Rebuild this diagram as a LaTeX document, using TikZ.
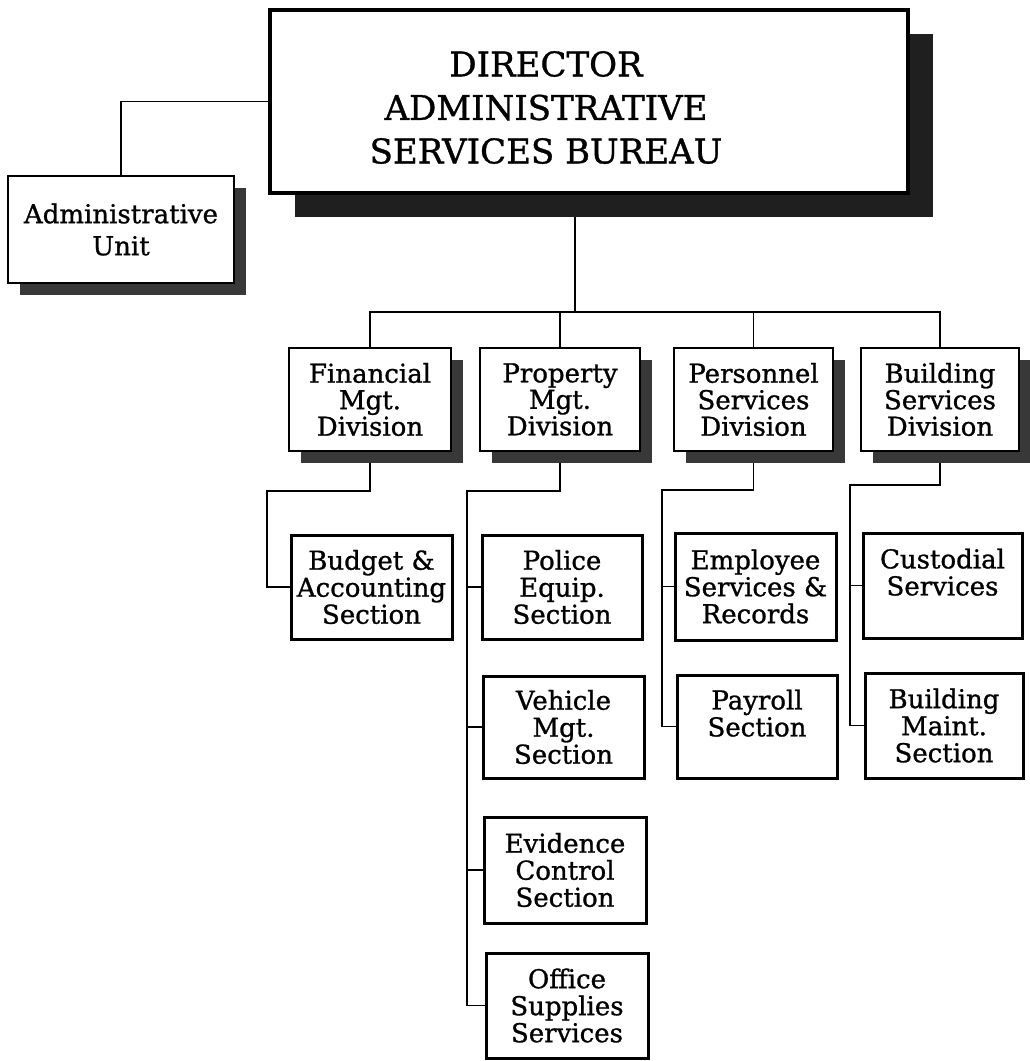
\documentclass[tikz,border=0pt]{standalone}
\usepackage{fontspec}
\setmainfont{DejaVu Serif}[BoldFont=DejaVu Serif, BoldFeatures={FakeBold=1.0}]
\usetikzlibrary{shadows,backgrounds}
\begin{document}
\begin{tikzpicture}[x=1pt,y=-1pt,
  box/.style={draw, fill=white, inner sep=0pt, align=center},
  divbox/.style={box, line width=2.8pt, minimum height=103pt,
    font=\fontsize{26}{26.5}\selectfont\bfseries,
    drop shadow={shadow xshift=12pt, shadow yshift=-12pt, fill=black!78, opacity=1}},
  secbox/.style={box, line width=3pt,
    font=\fontsize{26}{27}\selectfont\bfseries},
  conn/.style={line width=1.8pt}
]
\useasboundingbox (0,0) rectangle (1030,1061);

% Director
\node[box, line width=3.4pt, minimum width=638pt, minimum height=183pt,
  drop shadow={shadow xshift=25pt, shadow yshift=-24pt, fill=black!88, opacity=1}]
  (dir) at (589,101.5) {};
\node[align=center, font=\fontsize{34}{43.5}\selectfont\bfseries] (dirtext) at (546,107.5)
  {DIRECTOR\\ADMINISTRATIVE\\SERVICES BUREAU};

% Administrative unit
\node[box, line width=2.8pt, minimum width=226pt, minimum height=107pt,
  font=\fontsize{26}{32}\selectfont\bfseries,
  drop shadow={shadow xshift=12pt, shadow yshift=-12pt, fill=black!78, opacity=1}]
  (adm) at (121,229.5) {Administrative\\Unit};

% Divisions
\node[divbox, minimum width=162pt] (fin)  at (370,399.5)   {Financial\\Mgt.\\Division};
\node[divbox, minimum width=160pt] (prop) at (560,399.5)   {Property\\Mgt.\\Division};
\node[divbox, minimum width=159pt] (pers) at (753.5,399.5) {Personnel\\Services\\Division};
\node[divbox, minimum width=158pt] (bld)  at (940,399.5)   {Building\\Services\\Division};

% Sections
\node[secbox, minimum width=161pt, minimum height=104pt] (bud) at (371.5,587) {Budget \&\\Accounting\\Section};
\node[secbox, minimum width=160pt, minimum height=104pt] (pol) at (562,587)   {Police\\Equip.\\Section};
\node[secbox, minimum width=161pt, minimum height=102pt] (veh) at (563.5,727) {Vehicle\\Mgt.\\Section};
\node[secbox, minimum width=162pt, minimum height=106pt] (evi) at (565,870)   {Evidence\\Control\\Section};
\node[secbox, minimum width=162pt, minimum height=105pt] (off) at (567,1005.5) {Office\\Supplies\\Services};
\node[secbox, minimum width=161pt, minimum height=107pt] (emp) at (755.5,586.5) {Employee\\Services \&\\Records};
\node[secbox, minimum width=160pt, minimum height=103pt] (pay) at (757,726.5) {Payroll\\Section\\~};
\node[secbox, minimum width=159pt, minimum height=105pt] (cus) at (942.5,585.5) {Custodial\\Services\\~};
\node[secbox, minimum width=158pt, minimum height=105pt] (bma) at (944,725.5) {Building\\Maint.\\Section};

% junction coordinates
\coordinate (trunk) at (575,312);
\coordinate (fj) at (267,491);
\coordinate (pj) at (467,491);
\coordinate (ej) at (662,490);
\coordinate (bj) at (850,485);

\begin{pgfonlayer}{background}
\draw[conn] (dir.west) -| (adm.north);
\draw[conn] (trunk |- dir.south) -- (trunk);
\draw[conn] (fin.north) |- (bld.north |- trunk) -- (bld.north);
\draw[conn] (prop.north |- trunk) -- (prop.north);
\draw[conn] (pers.north |- trunk) -- (pers.north);

\draw[conn] (fin.south) |- (fj) |- (bud.west);

\draw[conn] (prop.south) |- (pj) |- (off.west);
\draw[conn] (pj |- pol.west) -- (pol.west);
\draw[conn] (pj |- veh.west) -- (veh.west);
\draw[conn] (pj |- evi.west) -- (evi.west);

\draw[conn] (pers.south) |- (ej) |- (pay.west);
\draw[conn] (ej |- emp.west) -- (emp.west);

\draw[conn] (bld.south) |- (bj) |- (bma.west);
\draw[conn] (bj |- cus.west) -- (cus.west);
\end{pgfonlayer}
\end{tikzpicture}
\end{document}
